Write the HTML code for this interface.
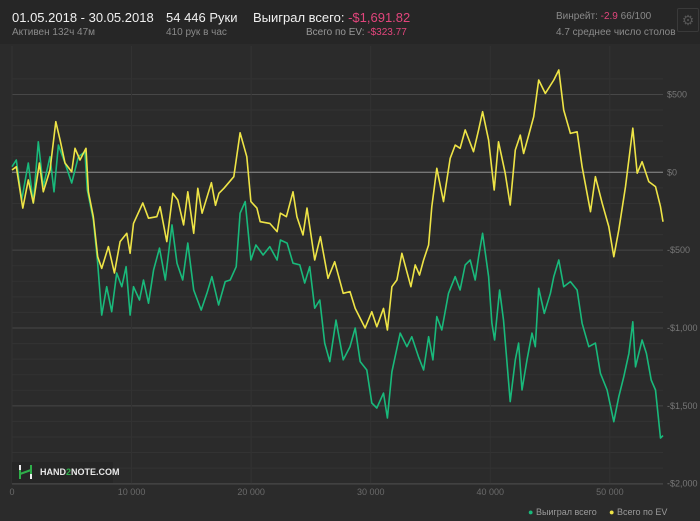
<!DOCTYPE html>
<html><head><meta charset="utf-8">
<style>
body{margin:0;width:700px;height:521px;background:#2b2b2b;overflow:hidden;font-family:"Liberation Sans",sans-serif;}
#hdr{position:absolute;left:0;top:0;width:700px;height:44px;background:#262626;}
.t{position:absolute;white-space:nowrap;}
.big{font-size:13px;color:#f0f0f0;}
.sm{font-size:10px;color:#8a8a8a;}
.pk{color:#e2457c;}
svg{position:absolute;left:0;top:0;}
</style></head><body>
<div id="hdr">
<div class="t big" style="left:12px;top:10px">01.05.2018 - 30.05.2018</div>
<div class="t sm" style="left:12px;top:27px">Активен 132ч 47м</div>
<div class="t big" style="left:166px;top:10px">54 446 Руки</div>
<div class="t sm" style="left:166px;top:27px">410 рук в час</div>
<div class="t big" style="left:253px;top:10px">Выиграл всего: <span class="pk">-$1,691.82</span></div>
<div class="t sm" style="left:306px;top:27px;color:#999">Всего по EV: <span class="pk">-$323.77</span></div>
<div class="t sm" style="left:556px;top:11px">Винрейт: <span class="pk">-2.9</span> 66/100</div>
<div class="t sm" style="left:556px;top:27px">4.7 среднее число столов</div>
<div class="t" style="left:677px;top:8px;width:20px;height:22px;border:1px solid #3a3a3a;border-radius:2px;color:#555;font-size:14px;text-align:center;line-height:22px">⚙</div>
</div>
<svg id="chart" width="700" height="521"></svg>
<script>
const handsWon=[0,360,810,1365,1780,2200,2620,3180,3515,3880,4430,4990,5550,6100,6300,6800,7140,7500,7920,8340,8760,9180,9540,9880,10160,10660,11000,11420,11840,12340,12820,13380,13800,14280,14700,15200,15820,16300,16720,17280,17830,18250,18750,19080,19500,19980,20400,21000,21560,22170,22450,23010,23500,24070,24480,24900,25320,25740,26150,26580,27100,27700,28270,28700,29120,29670,30090,30510,31070,31400,31770,32470,33030,33440,34000,34420,34840,35200,35530,35950,36510,37070,37480,37900,38320,38740,39020,39360,39860,40140,40360,40780,41110,41670,42090,42370,42650,43070,43490,43770,44050,44520,45030,45310,45730,46140,46700,47260,47680,48240,48790,49210,49770,50330,50750,51170,51590,51920,52150,52700,53060,53460,53820,54240,54446];
const valuesWon=[36,79,-178,60,-197,196,-92,100,-125,175,60,-69,100,132,-114,-306,-563,-917,-735,-895,-647,-735,-606,-917,-735,-820,-692,-841,-627,-487,-692,-338,-584,-692,-455,-756,-885,-777,-670,-852,-702,-692,-606,-263,-188,-563,-467,-531,-477,-563,-435,-455,-584,-595,-711,-606,-873,-820,-1097,-1216,-949,-1205,-1120,-1000,-1216,-1270,-1482,-1514,-1418,-1578,-1281,-1033,-1120,-1056,-1185,-1270,-1056,-1205,-927,-1013,-777,-670,-756,-595,-563,-692,-542,-392,-670,-970,-1077,-756,-949,-1473,-1205,-1097,-1398,-1205,-1033,-1120,-745,-906,-777,-670,-563,-735,-702,-756,-970,-1120,-1097,-1291,-1398,-1602,-1441,-1313,-1163,-960,-1249,-1077,-1163,-1334,-1398,-1707,-1691];
const handsEV=[0,360,900,1365,1780,2290,2620,3180,3660,4020,4430,4990,5270,5690,6190,6390,6800,7170,7500,8060,8560,9040,9600,9880,10160,10940,11420,12110,12390,12950,13450,13870,14350,14700,15200,15540,15900,16680,17020,17300,17720,18550,19080,19640,19980,20480,20760,21560,22170,22450,22950,23500,23830,24340,24670,25320,25790,26430,26990,27700,28270,28700,29530,30090,30510,31070,31400,31770,32190,32610,33360,33720,34080,34420,34840,35110,35530,36090,36650,37070,37480,37900,38600,39020,39360,39860,40330,40690,41250,41670,42090,42510,42790,43210,43630,44050,44600,45310,45730,46140,46700,47260,47680,48380,48790,49360,49910,50330,50750,51310,51920,52290,52700,53260,53820,54240,54446];
const valuesEV=[15,36,-230,-49,-197,60,-125,15,325,207,60,4,154,79,154,-125,-285,-542,-617,-477,-647,-445,-392,-520,-328,-197,-295,-285,-221,-445,-135,-178,-338,-125,-392,-103,-263,-67,-212,-135,-103,-28,254,100,-188,-230,-317,-328,-381,-263,-285,-125,-285,-403,-230,-563,-413,-681,-574,-777,-766,-874,-1000,-895,-992,-874,-1013,-735,-692,-520,-735,-595,-660,-563,-467,-221,26,-188,90,175,154,272,132,272,389,207,-114,196,-6,-210,143,239,121,239,357,593,507,593,657,400,250,260,36,-253,-28,-199,-349,-542,-370,-92,283,-6,68,-60,-92,-221,-317];
const yTicks=[500,0,-500,-1000,-1500,-2000];
const yTickLabels=["$500","$0","-$500","-$1,000","-$1,500","-$2,000"];
const xTicks=[0,10000,20000,30000,40000,50000];
const xTickLabels=["0","10 000","20 000","30 000","40 000","50 000"];

const NS="http://www.w3.org/2000/svg";
const svg=document.getElementById('chart');
const X0=12,X1=663,XMAX=54446,Y0=172.3,PY=0.1557,TOP=46,BOT=484;
const sx=h=>X0+(h/XMAX)*(X1-X0);
const sy=v=>Y0-v*PY;
function mk(tag,attrs){const e=document.createElementNS(NS,tag);for(const k in attrs)e.setAttribute(k,attrs[k]);svg.appendChild(e);return e;}
for(let v=600;v>=-2000;v-=100){
  const g=mk('line',{x1:X0,x2:X1,y1:sy(v),y2:sy(v),stroke:(v%500===0)?'#474747':'#333333','stroke-width':1});
  
  
}
xTicks.forEach((t,i)=>{
  const g=mk('line',{x1:sx(t),x2:sx(t),y1:TOP,y2:BOT,stroke:'#333','stroke-width':1});
  
  
  const tx=mk('text',{x:sx(t),y:495,fill:'#6a6a6a','font-size':9,'text-anchor':'middle'});
  tx.textContent=xTickLabels[i];
  
  
});
yTicks.forEach((t,i)=>{
  const tx=mk('text',{x:667,y:sy(t)+3,fill:'#777','font-size':9});
  tx.textContent=yTickLabels[i];
  
  
});
const zl=mk('line',{x1:X0,x2:X1,y1:sy(0),y2:sy(0),stroke:'#8a8a8a','stroke-width':1});


const bl=mk('line',{x1:X0,x2:X1,y1:BOT,y2:BOT,stroke:'#4a4a4a','stroke-width':1});


function series(hs,vs,col,name){
  const p=mk('polyline',{points:hs.map((h,i)=>sx(h).toFixed(1)+','+sy(vs[i]).toFixed(1)).join(' '),fill:'none',stroke:col,'stroke-width':1.6,'stroke-linejoin':'round'});
  
  
}
series(handsWon,valuesWon,'#19b97b','won-line');
series(handsEV,valuesEV,'#eee446','ev-line');
</script>
<div class="t" style="left:12px;top:462px;width:101px;height:21px;background:#262626">
<svg width="20" height="21" style="position:absolute;left:5px;top:0">
<line x1="3" y1="3" x2="3" y2="8" stroke="#eee" stroke-width="2"/>
<line x1="3" y1="8" x2="3" y2="17" stroke="#2fae4a" stroke-width="2"/>
<line x1="3" y1="12" x2="14" y2="8" stroke="#2fae4a" stroke-width="2"/>
<line x1="14" y1="3" x2="14" y2="12" stroke="#2fae4a" stroke-width="2"/>
<line x1="14" y1="12" x2="14" y2="17" stroke="#eee" stroke-width="2"/>
</svg>
<span style="position:absolute;left:28px;top:5px;color:#e8e8e8;font-size:9px;font-weight:bold">HAND<span style="color:#2fae4a">2</span>NOTE.COM</span>
</div>
<div class="t" style="left:528px;top:507px;font-size:9px;color:#9a9a9a"><span style="color:#19b97b">●</span> Выиграл всего</div>
<div class="t" style="left:609px;top:507px;font-size:9px;color:#9a9a9a"><span style="color:#eee446">●</span> Всего по EV</div>
</body></html>
